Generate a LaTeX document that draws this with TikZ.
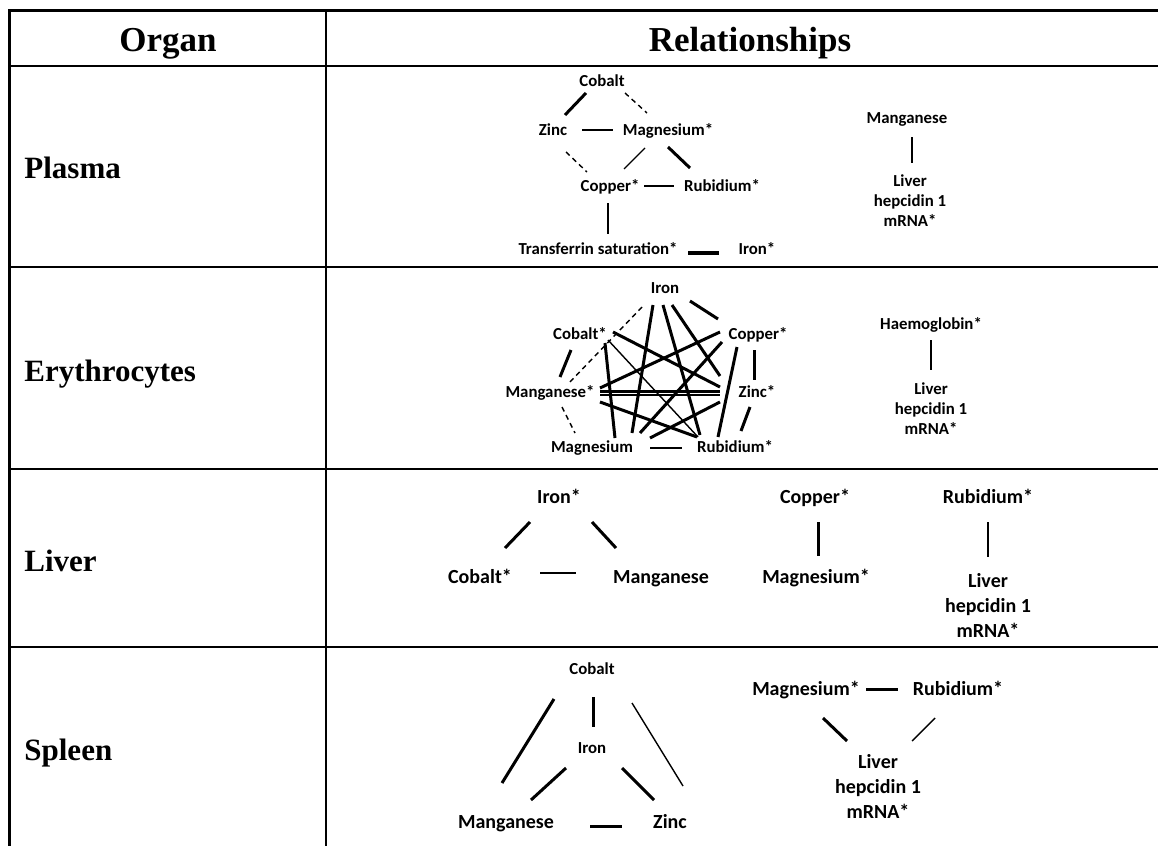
\documentclass[tikz,border=0pt]{standalone}
\usepackage{fontspec}
\setmainfont{Liberation Serif}
\newfontfamily\carlito{Carlito}
\usetikzlibrary{calc}
\tikzset{
  lab/.style={font=\fontsize{8.4}{10}\selectfont\carlito\bfseries,inner sep=0.5pt,text height=6pt,text depth=0.6pt},
  biglab/.style={font=\fontsize{10}{12}\selectfont\carlito\bfseries,inner sep=0.5pt,text height=7.1pt,text depth=0.7pt},
  hep/.style={font=\fontsize{8.4}{10}\selectfont\carlito\bfseries,align=center,inner sep=0.5pt},
  bighep/.style={font=\fontsize{10}{12.5}\selectfont\carlito\bfseries,align=center,inner sep=0.5pt},
  organ/.style={font=\fontsize{15.5}{18}\selectfont\bfseries,anchor=base west,inner sep=0pt},
  colhead/.style={font=\fontsize{17.5}{20}\selectfont\bfseries,anchor=base,inner sep=0pt},
  strong/.style={line width=1.5pt},
  heavy/.style={line width=2pt},
  weak/.style={line width=0.7pt},
  inverse/.style={line width=0.7pt,dash pattern=on 2.5pt off 2pt},
}
\begin{document}
\begin{tikzpicture}[x=0.5pt,y=-0.5pt]
\useasboundingbox (0,0) rectangle (1158,846);
% table
\draw[line width=1.5pt] (9,846) -- (9,10.5) -- (1158,10.5);
\draw[line width=1pt] (326,10) -- (326,846);
\draw[line width=1pt] (9,66) -- (1158,66);
\draw[line width=1.2pt] (9,267) -- (1158,267);
\draw[line width=1.2pt] (9,469) -- (1158,469);
\draw[line width=1.2pt] (9,647) -- (1158,647);
\node (horg) [colhead] at (168,51) {Organ};
\node (hrel) [colhead] at (750,51) {Relationships};
\node (plasma) [organ] at (24,178) {Plasma};
\node (ery) [organ] at (24,381) {Erythrocytes};
\node (liver) [organ] at (24,571) {Liver};
\node (spleen) [organ] at (24,760) {Spleen};

% plasma
\node (pco) [lab] at (602,81) {Cobalt};
\node (pzn) [lab] at (553,130) {Zinc};
\node (pmg) [lab] at (668,130) {Magnesium*};
\node (pcu) [lab] at (610,186) {Copper*};
\node (prb) [lab] at (722,186) {Rubidium*};
\node (ptf) [lab] at (598,249) {Transferrin saturation*};
\node (pfe) [lab] at (757,249) {Iron*};
\node (pmn) [lab] at (907,118) {Manganese};
\node (phep) [hep] at (910,201) {Liver\\hepcidin 1\\mRNA*};
\draw[strong] ($(pco)+(-16,12)$) -- ($(pzn)+(12,-15)$);
\draw[inverse] ($(pco)+(23,12)$) -- ($(pmg)+(-21,-17)$);
\draw[weak] ($(pzn)+(29,0)$) -- ($(pmg)+(-55,0)$);
\draw[inverse] ($(pzn)+(13,22)$) -- ($(pcu)+(-23,-14)$);
\draw[weak] ($(pmg)+(-23,18)$) -- ($(pcu)+(14,-17)$);
\draw[strong] ($(pmg)+(0,17)$) -- ($(prb)+(-32,-18)$);
\draw[weak] ($(pcu)+(34,0)$) -- ($(prb)+(-48,0)$);
\draw[weak] ($(pcu)+(-2,17)$) -- ($(ptf)+(10,-15)$);
\draw[heavy] ($(ptf)+(90,4)$) -- ($(pfe)+(-38,4)$);
\draw[weak] ($(pmn)+(5,19)$) -- ($(phep)+(2,-38)$);

% erythrocytes
\node (efe) [lab] at (665,288) {Iron};
\node (eco) [lab] at (580,334) {Cobalt*};
\node (ecu) [lab] at (758,334) {Copper*};
\node (emn) [lab] at (550,392) {Manganese*};
\node (ezn) [lab] at (757,392) {Zinc*};
\node (emg) [lab] at (592,447) {Magnesium};
\node (erb) [lab] at (735,447) {Rubidium*};
\node (ehb) [lab] at (931,324) {Haemoglobin*};
\node (ehep) [hep] at (931,409) {Liver\\hepcidin 1\\mRNA*};
\draw[inverse] ($(efe)+(-23,19)$) -- ($(emn)+(20,-10)$);
\draw[inverse] ($(emn)+(12,15)$) -- ($(emg)+(-17,-14)$);
\draw[strong] ($(eco)+(-9,16)$) -- ($(emn)+(10,-15)$);
\draw[strong] ($(efe)+(25,13)$) -- ($(ecu)+(-40,-15)$);
\draw[strong] ($(ecu)+(-4,16)$) -- ($(ezn)+(-3,-12)$);
\draw[strong] ($(ezn)+(-7,15)$) -- ($(erb)+(6,-16)$);
\draw[weak] ($(emg)+(58,1)$) -- ($(erb)+(-53,1)$);
\draw[strong] ($(efe)+(-12,17)$) -- ($(emg)+(40,-14)$);
\draw[strong] ($(efe)+(-2,17)$) -- ($(erb)+(-35,-12)$);
\draw[strong] ($(efe)+(7,17)$) -- ($(ezn)+(-37,-16)$);
\draw[strong] ($(eco)+(33,-2)$) -- ($(ezn)+(-37,-5)$);
\draw[weak] ($(eco)+(28,6)$) -- ($(erb)+(-37,-10)$);
\draw[strong] ($(eco)+(25,9)$) -- ($(emg)+(23,-9)$);
\draw[strong] ($(ecu)+(-38,-2)$) -- ($(emn)+(50,-4)$);
\draw[strong] ($(ecu)+(-36,8)$) -- ($(emg)+(48,-14)$);
\draw[strong] ($(ecu)+(-21,13)$) -- ($(erb)+(-17,-10)$);
\draw[strong] ($(emn)+(50,-1)$) -- ($(ezn)+(-37,-1)$);
\draw[weak] ($(emn)+(50,3)$) -- ($(ezn)+(-37,3)$);
\draw[strong] ($(emn)+(50,10)$) -- ($(erb)+(-38,-10)$);
\draw[strong] ($(ezn)+(-37,10)$) -- ($(emg)+(58,-9)$);
\draw[weak] ($(ehb)+(0,16)$) -- ($(ehep)+(0,-39)$);

% liver
\node (lfe) [biglab] at (559,497) {Iron*};
\node (lcu) [biglab] at (815,497) {Copper*};
\node (lrb) [biglab] at (988,497) {Rubidium*};
\node (lco) [biglab] at (480,577) {Cobalt*};
\node (lmn) [biglab] at (661,577) {Manganese};
\node (lmg) [biglab] at (816,577) {Magnesium*};
\node (lhep) [bighep] at (988,605) {Liver\\hepcidin 1\\mRNA*};
\draw[strong] ($(lfe)+(-29,25)$) -- ($(lco)+(25,-29)$);
\draw[strong] ($(lfe)+(33,25)$) -- ($(lmn)+(-45,-29)$);
\draw[weak] ($(lco)+(60,-4)$) -- ($(lmn)+(-85,-4)$);
\draw[strong] ($(lcu)+(3,25)$) -- ($(lmg)+(2,-21)$);
\draw[weak] ($(lrb)+(0,25)$) -- ($(lhep)+(0,-48)$);

% spleen
\node (sco) [lab] at (592,669) {Cobalt};
\node (sfe) [lab] at (592,748) {Iron};
\node (smn) [biglab] at (506,822) {Manganese};
\node (szn) [biglab] at (670,822) {Zinc};
\node (smg) [biglab] at (806,689) {Magnesium*};
\node (srb) [biglab] at (958,689) {Rubidium*};
\node (shep) [bighep] at (878,786) {Liver\\hepcidin 1\\mRNA*};
\draw[strong] ($(sco)+(-38,30)$) -- ($(smn)+(-4,-39)$);
\draw[strong] ($(sco)+(1,28)$) -- ($(sfe)+(1,-21)$);
\draw[weak] ($(sco)+(40,34)$) -- ($(szn)+(13,-36)$);
\draw[strong] ($(sfe)+(-26,20)$) -- ($(smn)+(25,-22)$);
\draw[strong] ($(sfe)+(30,20)$) -- ($(szn)+(-16,-22)$);
\draw[strong] ($(smn)+(84,4)$) -- ($(szn)+(-48,4)$);
\draw[strong] ($(smg)+(60,0)$) -- ($(srb)+(-60,0)$);
\draw[strong] ($(smg)+(17,29)$) -- ($(shep)+(-31,-45)$);
\draw[weak] ($(srb)+(-23,29)$) -- ($(shep)+(34,-45)$);
\end{tikzpicture}
\end{document}
